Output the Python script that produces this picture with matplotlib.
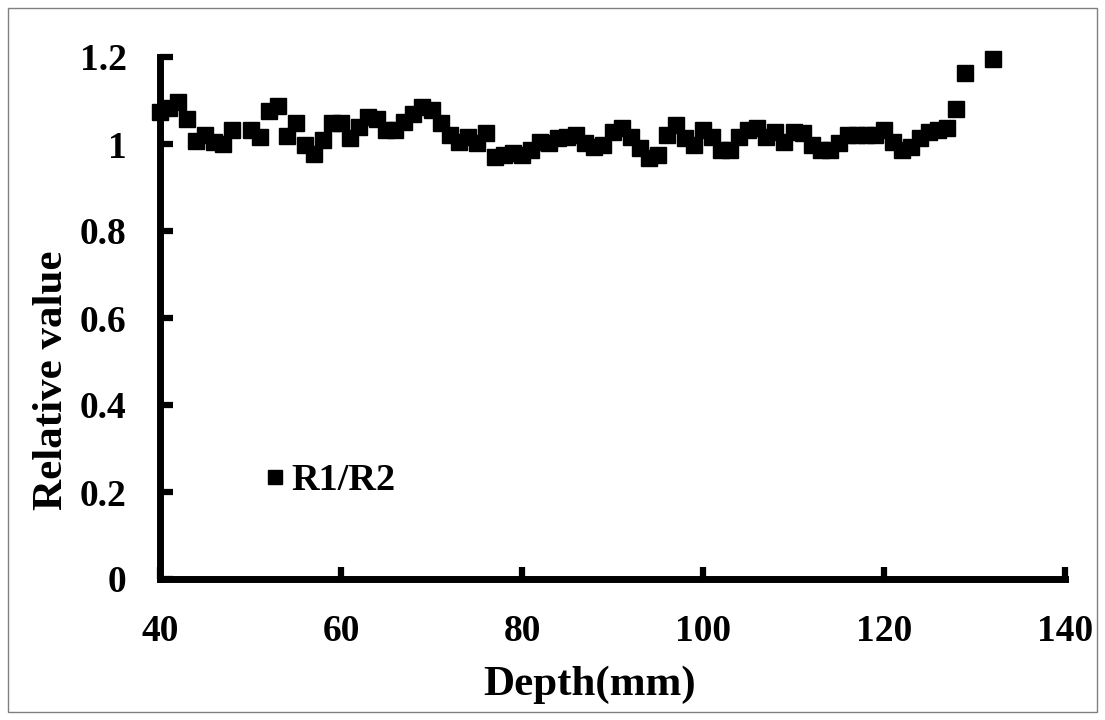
import matplotlib
matplotlib.use("Agg")
import matplotlib.pyplot as plt
from matplotlib.patches import Rectangle

# Depth positions (mm) and the R1/R2 ratio measured at each depth
depth_mm = [40, 41, 42, 43, 44, 45, 46, 47, 48, 50,
            51, 52, 53, 54, 55, 56, 57, 58, 59, 60,
            61, 62, 63, 64, 65, 66, 67, 68, 69, 70,
            71, 72, 73, 74, 75, 76, 77, 78, 79, 80,
            81, 82, 83, 84, 85, 86, 87, 88, 89, 90,
            91, 92, 93, 94, 95, 96, 97, 98, 99, 100,
            101, 102, 103, 104, 105, 106, 107, 108, 109, 110,
            111, 112, 113, 114, 115, 116, 117, 118, 119, 120,
            121, 122, 123, 124, 125, 126, 127, 128, 129, 132]
ratio_r1_r2 = [1.074, 1.083, 1.096, 1.058, 1.007, 1.021, 1.004, 1.000, 1.032, 1.032,
               1.017, 1.075, 1.088, 1.018, 1.048, 0.998, 0.977, 1.009, 1.048, 1.048,
               1.014, 1.040, 1.062, 1.058, 1.032, 1.032, 1.050, 1.070, 1.085, 1.078,
               1.048, 1.020, 1.005, 1.016, 1.002, 1.025, 0.970, 0.975, 0.980, 0.975,
               0.987, 1.005, 1.002, 1.014, 1.016, 1.020, 1.002, 0.993, 0.998, 1.028,
               1.037, 1.016, 0.991, 0.968, 0.975, 1.021, 1.044, 1.014, 0.998, 1.032,
               1.016, 0.986, 0.986, 1.016, 1.032, 1.037, 1.016, 1.028, 1.005, 1.028,
               1.025, 0.998, 0.986, 0.986, 1.002, 1.021, 1.021, 1.021, 1.021, 1.032,
               1.005, 0.986, 0.993, 1.014, 1.028, 1.032, 1.037, 1.080, 1.164, 1.196]

x_ticks = [40, 60, 80, 100, 120, 140]
y_ticks = [0, 0.2, 0.4, 0.6, 0.8, 1.0, 1.2]
y_tick_labels = ["0", "0.2", "0.4", "0.6", "0.8", "1", "1.2"]

plt.rcParams["font.family"] = ["Liberation Serif", "DejaVu Serif"]
plt.rcParams["font.weight"] = "bold"

fig = plt.figure(figsize=(11.05, 7.2), dpi=100)
ax = fig.add_axes([160 / 1105, (720 - 579) / 720, 905 / 1105, 522 / 720])

ax.plot(depth_mm, ratio_r1_r2, linestyle="none", marker="s", markersize=11.5,
        color="black", label="R1/R2", clip_on=False)

ax.set_xlim(40, 140)
ax.set_ylim(0, 1.2)
ax.set_xticks(x_ticks)
ax.set_yticks(y_ticks)
ax.set_yticklabels(y_tick_labels)

for side in ("top", "right"):
    ax.spines[side].set_visible(False)
for side in ("left", "bottom"):
    ax.spines[side].set_linewidth(5)
    ax.spines[side].set_capstyle("projecting")

ax.tick_params(axis="both", direction="in", length=9, width=4.5,
               labelsize=27, color="black")
ax.tick_params(axis="y", pad=24)
ax.tick_params(axis="x", pad=25)
for lbl in ax.get_xticklabels() + ax.get_yticklabels():
    lbl.set_fontweight("bold")

ax.set_xlabel("Depth(mm)", fontsize=31, fontweight="bold")
ax.set_ylabel("Relative value", fontsize=31, fontweight="bold")
ax.xaxis.set_label_coords(0.475, -0.165)
ax.yaxis.set_label_coords(-0.098, 0.38)

leg = ax.legend(loc="center left", bbox_to_anchor=(0.1105, 0.188),
                frameon=False, fontsize=27.5, handlelength=0.8,
                handletextpad=0.03, borderpad=0, borderaxespad=0,
                markerscale=0.9)
for t in leg.get_texts():
    t.set_fontweight("bold")

# thin outer frame around the whole figure
fig.patches.append(Rectangle((8 / 1105, 8 / 720), 1089 / 1105, 704 / 720,
                             transform=fig.transFigure, fill=False,
                             edgecolor="#808080", linewidth=1))

fig.savefig("out.png", dpi=100)
